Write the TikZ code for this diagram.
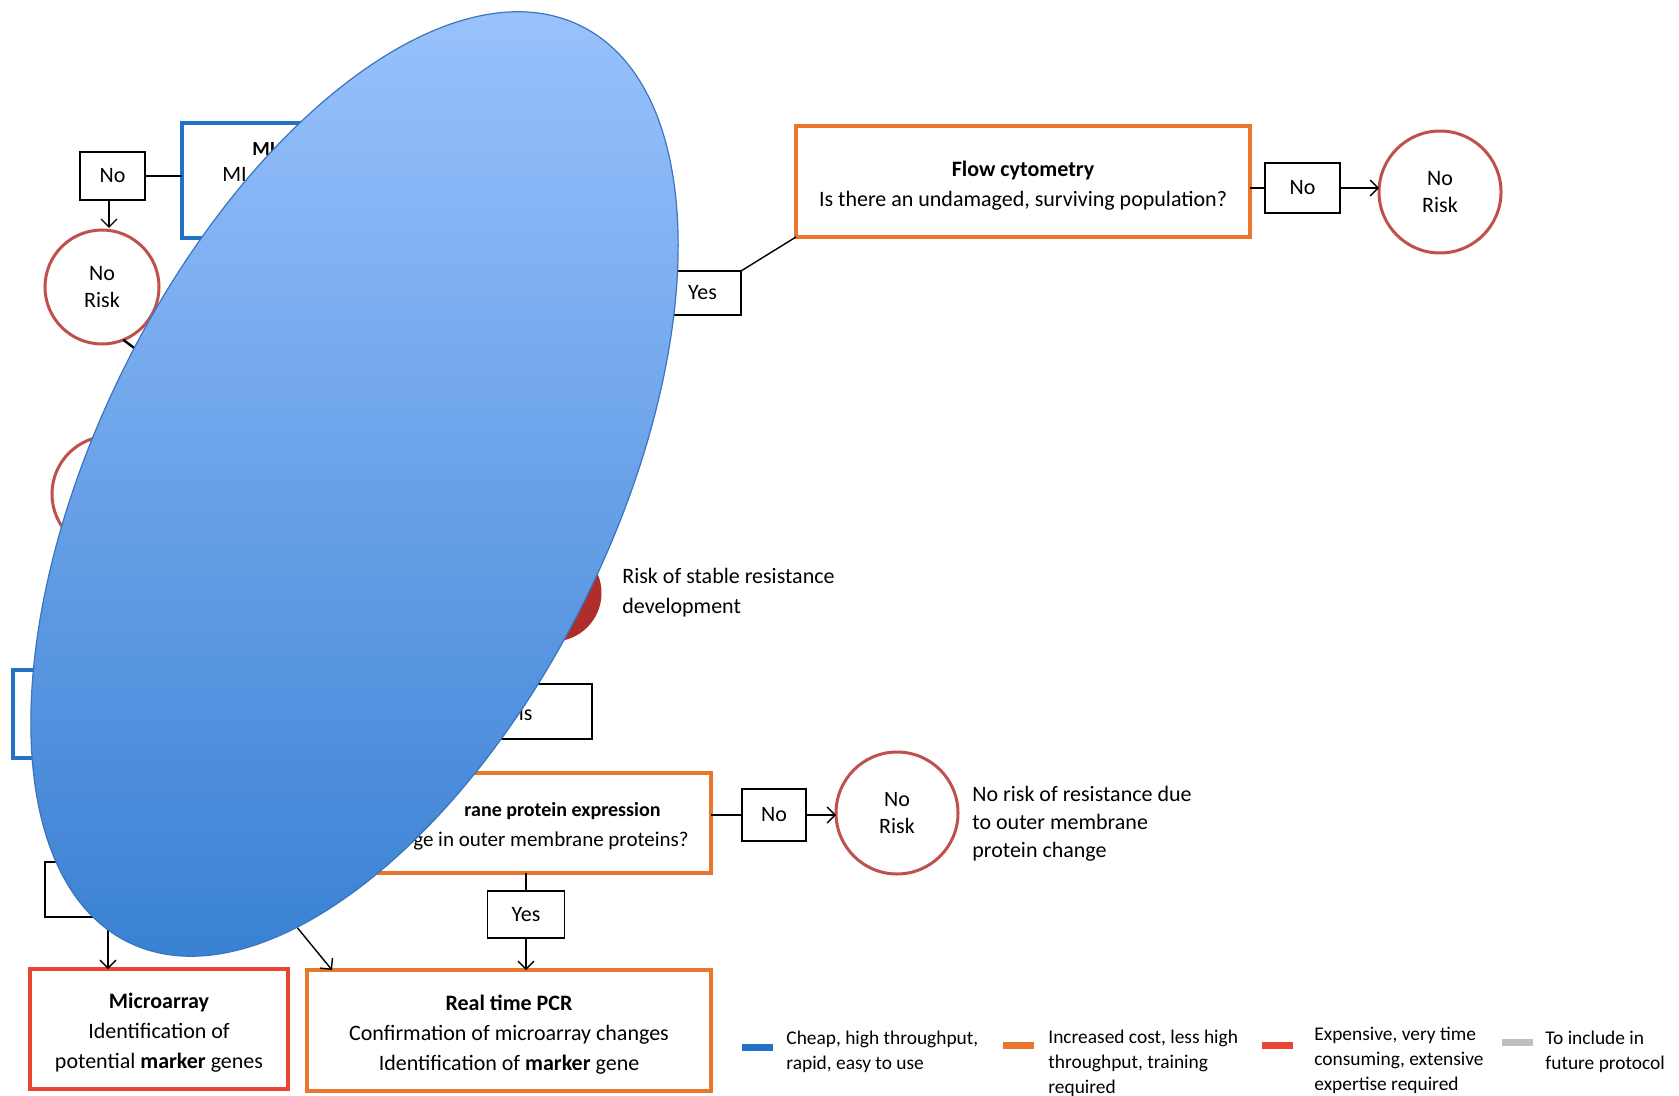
\documentclass[tikz,border=0pt]{standalone}
\usepackage{fontspec}
\setmainfont{Carlito}
\usetikzlibrary{arrows.meta,positioning,calc,shapes.geometric}
\definecolor{cheapblue}{HTML}{2272C6}
\definecolor{costorange}{HTML}{E8762B}
\definecolor{expensivered}{HTML}{EA4436}
\definecolor{futuregray}{HTML}{BFBFBF}
\definecolor{riskred}{HTML}{C0504D}
\definecolor{riskdark}{HTML}{AD2E2A}
\definecolor{ovallight}{HTML}{9EC5FF}
\definecolor{ovalmid}{HTML}{80AFF0}
\definecolor{ovaldark}{HTML}{3B82D4}
\definecolor{ovaledge}{HTML}{3B74BC}
\newcommand{\headstrut}{\rule{0pt}{11.5pt}}
\tikzset{
  chart/.style={font=\fontsize{11pt}{15pt}\selectfont},
  method/.style={draw,line width=2pt,fill=white,align=center,inner sep=0pt,outer sep=0pt},
  cheapbox/.style={method,draw=cheapblue},
  costbox/.style={method,draw=costorange},
  expensivebox/.style={method,draw=expensivered},
  answer/.style={draw=black,line width=0.75pt,fill=white,inner sep=0pt,outer sep=0pt},
  riskcircle/.style={circle,draw=riskred,line width=1.5pt,fill=white,align=center,inner sep=0pt,outer sep=0pt,font=\fontsize{11pt}{13.5pt}\selectfont},
  note/.style={align=left,inner sep=0pt,anchor=west},
  link/.style={line width=0.7pt,draw=black},
  flow/.style={link,-{Straight Barb[length=4pt,width=8pt,line width=0.7pt]}},
  legbar/.style={minimum width=15.5pt,minimum height=3.5pt,inner sep=0pt},
  legtext/.style={align=left,inner sep=0pt,anchor=north west,font=\fontsize{9.7pt}{12.5pt}\selectfont},
  oval/.style={ellipse,draw=ovaledge,line width=0.6pt,top color=ovallight,middle color=ovalmid,bottom color=ovaldark,inner sep=0pt,outer sep=0pt}
}
\begin{document}
\begin{tikzpicture}[x=0.5pt,y=-0.5pt,chart]
  \useasboundingbox (0,0) rectangle (1679,1096);
  % top left branch
  \node[cheapbox,minimum width=189pt,minimum height=57.5pt] (mic) at (371,180.5) {};
  \node[note,font=\bfseries] (micT) at (252,149) {MI};
  \node[note] (micQ) at (222,174) {MI};
  \node[answer,minimum width=32.5pt,minimum height=24pt] (noA) at (112.5,176) {No};
  \node[riskcircle,minimum size=57pt] (riskA) at (102,287) {No\\Risk};
  \draw[link] (noA.east) -- (noA.east -| mic.west);
  \draw[flow] (noA.south -| 109,0) -- (109,228);
  \coordinate (hidA) at (190,390);
  \draw[link,line width=1.2pt] (riskA.-68) -- (hidA);
  \node[riskcircle,minimum size=58pt] (riskC) at (110,494) {};
  \node[riskcircle,draw=riskdark,fill=riskdark,minimum size=47pt] (riskD) at (553,593) {};
  \node[note] (stable) at (622,593) {Risk of stable resistance\\development};
  % flow cytometry branch
  \node[answer,minimum width=38.5pt,minimum height=22pt] (yesA) at (702.5,293) {Yes};
  \node[costbox,minimum width=227pt,minimum height=55.5pt] (flow) at (1023,181.5) {\headstrut\textbf{Flow cytometry}\\Is there an undamaged, surviving population?};
  \node[answer,minimum width=37.5pt,minimum height=25pt] (noB) at (1302.5,188) {No};
  \node[riskcircle,minimum size=61pt] (riskB) at (1440,192) {No\\Risk};
  \draw[link] (yesA.north east) -- (flow.south west);
  \draw[link] (noB.west -| flow.east) -- (noB.west);
  \draw[flow] (noB.east) -- (noB.east -| riskB.west);
  % middle
  \node[cheapbox,minimum width=158.5pt,minimum height=44pt] (lower) at (171.5,714) {};
  \node[answer,minimum width=106pt,minimum height=27.5pt] (isbox) at (486,711.5) {};
  \node[note,anchor=east] (isT) at (533,713) {is};
  % outer membrane branch
  \node[costbox,minimum width=202pt,minimum height=50pt] (memb) at (509,823) {};
  \node[note,anchor=east,font=\bfseries] (membT) at (661,811) {rane protein expression};
  \node[note,anchor=east,font=\fontsize{10.5pt}{15pt}\selectfont] (membQ) at (689,841) {ge in outer membrane proteins?};
  \node[answer,minimum width=32pt,minimum height=26pt] (noC) at (774,815) {No};
  \node[riskcircle,minimum size=61pt] (riskE) at (897,813) {No\\Risk};
  \node[note,font=\fontsize{11pt}{14pt}\selectfont] (nochange) at (972,824) {No risk of resistance due\\to outer membrane\\protein change};
  \draw[link] (noC.west -| memb.east) -- (noC.west);
  \draw[flow] (noC.east) -- (noC.east -| riskE.west);
  \node[answer,minimum width=38.5pt,minimum height=23.5pt] (yesB) at (526,914.5) {Yes};
  \draw[link] (yesB |- memb.south) -- (yesB.north);
  % bottom row
  \node[costbox,minimum width=202pt,minimum height=60.5pt] (pcr) at (509,1030.5) {\headstrut\textbf{Real time PCR}\\Confirmation of microarray changes\\Identification of \textbf{marker} gene};
  \node[expensivebox,minimum width=129pt,minimum height=60pt] (array) at (159,1029) {\headstrut\textbf{Microarray}\\Identification of\\potential \textbf{marker} genes};
  \draw[flow] (yesB.south) -- (yesB.south |- pcr.north);
  \node[answer,minimum width=63pt,minimum height=27.5pt] (yesC) at (108,889.5) {};
  \draw[flow] (yesC.south) -- (yesC.south |- array.north);
  \coordinate (hidB) at (264,887);
  \draw[flow] (hidB) -- ([xshift=12.5pt]pcr.north west);
  % legend
  \node[legbar,fill=cheapblue] (legA) at (757.5,1047) {};
  \node[legtext] (legAT) at (786,1031) {Cheap, high throughput,\\rapid, easy to use};
  \node[legbar,fill=costorange] (legB) at (1018.5,1045) {};
  \node[legtext] (legBT) at (1048,1030) {Increased cost, less high\\throughput, training\\required};
  \node[legbar,fill=expensivered] (legC) at (1277.5,1045) {};
  \node[legtext] (legCT) at (1314,1027) {Expensive, very time\\consuming, extensive\\expertise required};
  \node[legbar,fill=futuregray] (legD) at (1517.5,1042) {};
  \node[legtext] (legDT) at (1545,1031) {To include in\\future protocol};
  % cover
  \node[oval,minimum width=511pt,minimum height=258pt,rotate=63.7] (lens) at (354.5,484) {};
\end{tikzpicture}
\end{document}
